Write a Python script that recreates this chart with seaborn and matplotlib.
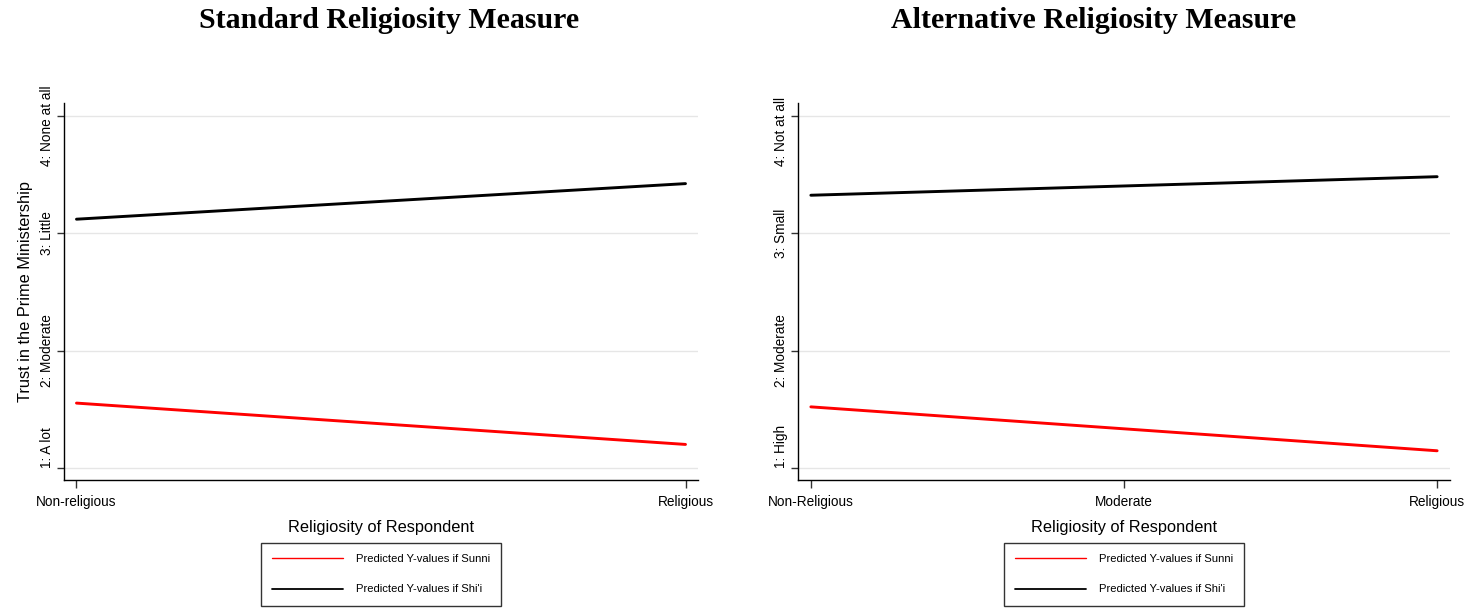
import pandas as pd
import matplotlib.pyplot as plt
import seaborn as sns

# Predicted values
std_levels = ["Non-religious", "Religious"]
std_sunni = [1.555, 1.203]
std_shia = [3.121, 3.424]

alt_levels = ["Non-Religious", "Moderate", "Religious"]
alt_sunni = [1.523, 1.336, 1.149]
alt_shia = [3.325, 3.404, 3.483]

std_ylabels = ["1: A lot", "2: Moderate", "3: Little", "4: None at all"]
alt_ylabels = ["1: High", "2: Moderate", "3: Small", "4: Not at all"]

sns.set_style("white")
plt.rcParams['font.family'] = ['Liberation Sans', 'DejaVu Sans']
plt.rcParams['text.color'] = 'black'
plt.rcParams['axes.labelcolor'] = 'black'
plt.rcParams['xtick.color'] = 'black'
plt.rcParams['ytick.color'] = 'black'

fig = plt.figure(figsize=(14.71, 6.08), dpi=100)
ax1 = fig.add_axes([0.0435, 0.2105, 0.431, 0.620])
ax2 = fig.add_axes([0.5425, 0.2105, 0.4432, 0.620])

panels = [
    (ax1, std_levels, std_sunni, std_shia, std_ylabels, "Standard Religiosity Measure", 389),
    (ax2, alt_levels, alt_sunni, alt_shia, alt_ylabels, "Alternative Religiosity Measure", 1094),
]

for ax, levels, sunni, shia, ylabels, title, tx in panels:
    df = pd.DataFrame({
        "x": list(range(len(levels))) * 2,
        "y": sunni + shia,
        "group": ["Predicted Y-values if Sunni"] * len(levels) + ["Predicted Y-values if Shi'i"] * len(levels),
    })
    sns.lineplot(data=df, x="x", y="y", hue="group", palette=["red", "black"],
                 linewidth=2.1, ax=ax, legend=False)

    n = len(levels) - 1
    pad = 0.0205 * n
    ax.set_xlim(-pad, n + pad)
    ax.set_ylim(0.9, 4.11)
    ax.set_xticks(range(len(levels)))
    ax.set_xticklabels(levels, fontsize=9.8)
    ax.set_yticks([1, 2, 3, 4])
    # the top label hangs below its tick in the original, so it is drawn separately
    ax.set_yticklabels(ylabels[:3] + [""], fontsize=9.8, rotation=90, va="center")
    ax.get_yticklabels()[0].set_va("bottom")
    ax.annotate(ylabels[3], xy=(0, 4), xycoords=("axes fraction", "data"),
                xytext=(-7.5, -36), textcoords="offset points",
                ha="right", va="bottom", rotation=90, fontsize=9.8, color="black")
    ax.yaxis.grid(True, color="#e6e6e6", linewidth=1)
    ax.set_axisbelow(True)
    for s in ["top", "right"]:
        ax.spines[s].set_visible(False)
    for s in ["left", "bottom"]:
        ax.spines[s].set_color("black")
        ax.spines[s].set_linewidth(1.0)
    ax.tick_params(axis="y", direction="out", length=5, width=1,
                   color="#333333", left=True, pad=2.5)
    ax.tick_params(axis="x", direction="out", length=6, width=1,
                   color="#333333", bottom=True, pad=5)
    ax.set_xlabel("Religiosity of Respondent", fontsize=11.8, labelpad=8)
    ax.set_ylabel("")

    handles = [plt.Line2D([], [], color="red", linewidth=1.0),
               plt.Line2D([], [], color="black", linewidth=1.3)]
    leg = ax.legend(handles, ["Predicted Y-values if Sunni", "Predicted Y-values if Shi'i"],
                    loc="upper center", bbox_to_anchor=(0.5, -0.167), fontsize=8.1,
                    frameon=True, fancybox=False, handlelength=6.3, handletextpad=1.15,
                    labelspacing=1.8, borderpad=1.0, borderaxespad=0)
    leg.get_frame().set_edgecolor("black")
    leg.get_frame().set_linewidth(1.0)

    fig.text(tx / 1471, 1 - 21 / 608, title, ha="center", va="center",
             fontsize=21.5, fontweight="bold", family="Liberation Serif")

ax1.set_ylabel("Trust in the Prime Ministership", fontsize=11.8, labelpad=5)

fig.savefig("out.png", dpi=100)
